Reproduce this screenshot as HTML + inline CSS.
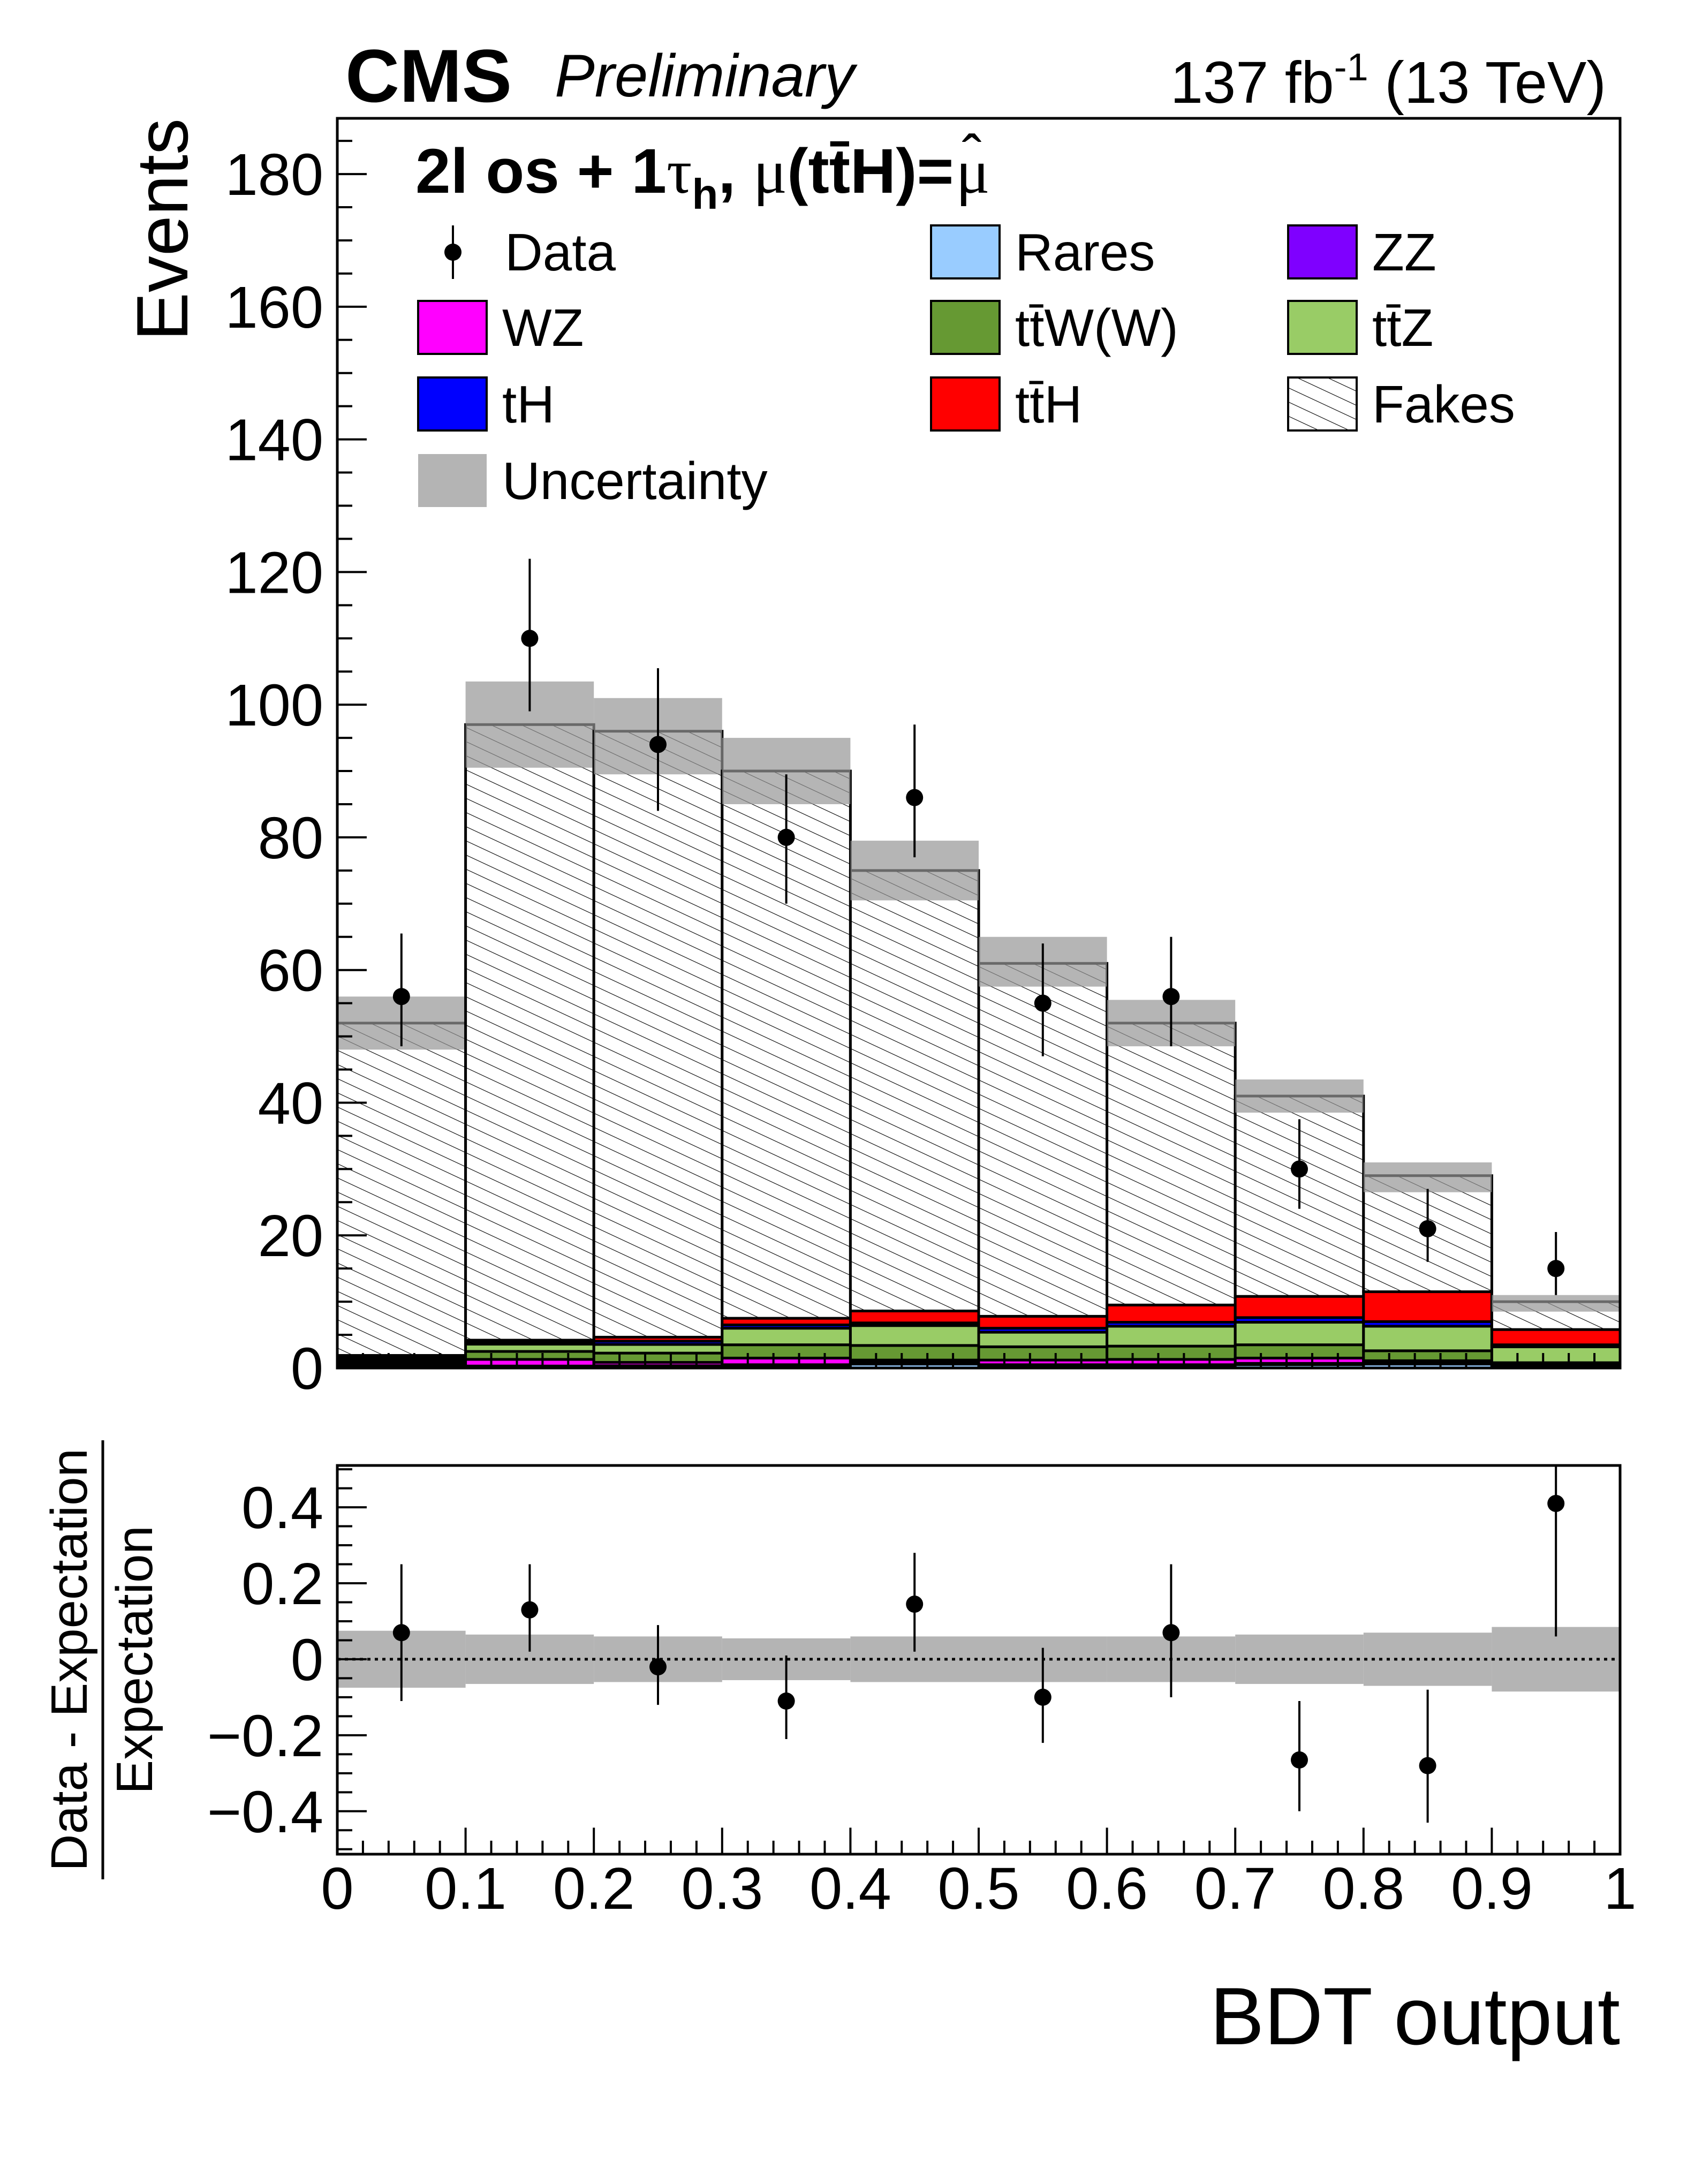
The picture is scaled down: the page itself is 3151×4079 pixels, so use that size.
<!DOCTYPE html>
<html><head><meta charset="utf-8"><style>
html,body{margin:0;padding:0;background:#fff;}
svg{display:block;font-family:"Liberation Sans",sans-serif;}
</style></head><body>
<svg id="c" xmlns="http://www.w3.org/2000/svg" width="3151" height="4079" viewBox="0 0 3151 4079">
<defs>
<pattern id="hatch" patternUnits="userSpaceOnUse" width="24" height="24" patternTransform="rotate(-65)">
<rect width="24" height="24" fill="#fff"/><line x1="0" y1="0" x2="0" y2="24" stroke="#000" stroke-width="2.2"/>
</pattern>
</defs>
<g id="main"></g>
<g id="ratio"></g>
<text x="645" y="190" font-size="140" font-weight="bold">CMS</text>
<text x="1036" y="180" font-size="112" font-style="italic">Preliminary</text>
<text x="3000" y="192" font-size="110" text-anchor="end">137 fb<tspan dy="-42" font-size="72">-1</tspan><tspan dy="42"> (13 TeV)</tspan></text>
<text id="cat" x="776" y="360" font-size="118" font-weight="bold">2l os + 1<tspan font-weight="normal" font-family="Liberation Serif">τ</tspan><tspan dy="30" font-size="80">h</tspan><tspan dy="-30">,  </tspan><tspan font-weight="normal" font-family="Liberation Serif">μ</tspan>(tt̄H)=</text>
<text id="muhat" x="1870" y="360" font-size="118" font-family="Liberation Serif">μ</text>
<text id="hat" x="1900" y="330" font-size="110" text-anchor="middle">ˆ</text>
<text transform="translate(350,221) rotate(-90)" font-size="136" text-anchor="end">Events</text>
<text x="3026" y="3818" font-size="152" text-anchor="end">BDT output</text>
<g transform="translate(192,3100) rotate(-90)">
<text x="0" y="-30" font-size="96" text-anchor="middle">Data - Expectation</text>
<line x1="-410" y1="0" x2="410" y2="0" stroke="#000" stroke-width="5"/>
<text x="0" y="92" font-size="96" text-anchor="middle">Expectation</text>
</g>
<g id="legend"></g>
</svg>
<script>
const edges=[0,0.1,0.2,0.3,0.4,0.5,0.6,0.7,0.8,0.9,1.0];
const rares=[0.1,0.1,0.15,0.3,0.6,0.3,0.3,0.5,0.6,0.2];
const zz=[0.4,0.2,0.2,0.2,0.2,0.2,0.2,0.2,0.2,0.2];
const wz=[0.4,1.0,0.5,1.0,0.4,0.7,0.8,0.8,0.3,0.1];
const ttw=[0.4,1.2,1.4,2.0,2.2,2.0,2.0,2.0,1.5,0.3];
const ttz=[0.3,1.1,1.3,2.5,3.0,2.2,3.0,3.4,3.7,2.4];
const th=[0.2,0.3,0.5,0.5,0.4,0.6,0.6,0.7,0.7,0.3];
const tth=[0.1,0.3,0.6,1.0,1.8,1.8,2.6,3.2,4.5,2.3];
const totals=[52,97,96,90,75,61,52,41,29,10];
const uncLo=[48,90.5,89.5,85,70.5,57.5,48.5,38.5,26.5,8.5];
const uncHi=[56,103.5,101,95,79.5,65,55.5,43.5,31,11];
const dataY=[56,110,94,80,86,55,56,30,21,15];
const dataHi=[65.5,122,105.5,89.5,97,64,65,37.5,27,20.5];
const dataLo=[48.5,99,84,70,77,47,48.5,24,16,11];
const ratioY=[0.07,0.13,-0.02,-0.11,0.145,-0.10,0.07,-0.265,-0.28,0.41];
const ratioHi=[0.25,0.25,0.09,0.01,0.28,0.03,0.25,-0.11,-0.08,0.6];
const ratioLo=[-0.11,0.02,-0.12,-0.21,0.02,-0.22,-0.10,-0.40,-0.43,0.06];
const ratioUnc=[0.075,0.065,0.06,0.055,0.06,0.06,0.06,0.065,0.07,0.085];
const yTicks=[0,20,40,60,80,100,120,140,160,180];
const rTicks=[-0.4,-0.2,0,0.2,0.4];
const rTickLabels=["\u22120.4","\u22120.2","0","0.2","0.4"];
const xTicks=[0,0.1,0.2,0.3,0.4,0.5,0.6,0.7,0.8,0.9,1];
const xTickLabels=["0","0.1","0.2","0.3","0.4","0.5","0.6","0.7","0.8","0.9","1"];

const NS="http://www.w3.org/2000/svg";
const X0=630,X1=3026;
const xs=v=>X0+(X1-X0)*v;
const MT=221,MB=2555,MMAX=188.4;
const ys=v=>MB-(MB-MT)*v/MMAX;
const RT=2737,RB=3463,RMIN=-0.513,RMAX=0.51;
const yr=v=>RB-(RB-RT)*(v-RMIN)/(RMAX-RMIN);
function mk(tag,attrs,parent){const e=document.createElementNS(NS,tag);for(const k in attrs)e.setAttribute(k,attrs[k]);parent.appendChild(e);return e;}
const main=document.getElementById('main'),ratio=document.getElementById('ratio');

// place mu-hat after the title
const cat=document.getElementById('cat');
const endX=776+cat.getComputedTextLength()+4;
document.getElementById('muhat').setAttribute('x',endX);
document.getElementById('hat').setAttribute('x',endX+30);

const comps=[[rares,'#99ccff','rares'],[zz,'#7f00ff','zz'],[wz,'#ff00ff','wz'],[ttw,'#669933','ttw'],[ttz,'#99cc66','ttz'],[th,'#0000ff','th'],[tth,'#ff0000','tth']];
for(let i=0;i<10;i++){
  const xa=xs(edges[i]),xb=xs(edges[i+1]);
  let cum=0;
  for(const [arr,col,nm] of comps){
    const r=mk('rect',{x:xa,y:ys(cum+arr[i]),width:xb-xa,height:ys(cum)-ys(cum+arr[i]),fill:col,stroke:'#000','stroke-width':5},main);
    
    
    cum+=arr[i];
  }
  const f=mk('rect',{x:xa,y:ys(totals[i]),width:xb-xa,height:ys(cum)-ys(totals[i]),fill:'url(#hatch)',stroke:'#000','stroke-width':5},main);
  
  
  const u=mk('rect',{x:xa,y:ys(uncHi[i]),width:xb-xa,height:ys(uncLo[i])-ys(uncHi[i]),fill:'rgb(150,150,150)','fill-opacity':0.7},main);
  
  
  const ru=mk('rect',{x:xa,y:yr(ratioUnc[i]),width:xb-xa,height:yr(-ratioUnc[i])-yr(ratioUnc[i]),fill:'#b4b4b4'},ratio);
  
  
}
const zl=mk('line',{x1:X0,x2:X1,y1:yr(0),y2:yr(0),stroke:'#000','stroke-width':5,'stroke-dasharray':'6 8'},ratio);


for(let i=0;i<10;i++){
  const cx=xs((edges[i]+edges[i+1])/2);
  const g=mk('g',{},main);
  
  
  mk('line',{x1:cx,x2:cx,y1:ys(dataHi[i]),y2:ys(dataLo[i]),stroke:'#000','stroke-width':4},g);
  mk('circle',{cx:cx,cy:ys(dataY[i]),r:16,fill:'#000'},g);
  const g2=mk('g',{},ratio);
  
  
  mk('line',{x1:cx,x2:cx,y1:Math.max(RT,yr(ratioHi[i])),y2:yr(ratioLo[i]),stroke:'#000','stroke-width':4},g2);
  mk('circle',{cx:cx,cy:yr(ratioY[i]),r:16,fill:'#000'},g2);
}
const f1=mk('rect',{x:X0,y:MT,width:X1-X0,height:MB-MT,fill:'none',stroke:'#000','stroke-width':5},main);


const f2=mk('rect',{x:X0,y:RT,width:X1-X0,height:RB-RT,fill:'none',stroke:'#000','stroke-width':5},ratio);


for(let v=0;v<=MMAX;v+=5){
  const y=ys(v),L=(v%20===0)?55:28;
  mk('line',{x1:X0,x2:X0+L,y1:y,y2:y,stroke:'#000','stroke-width':4},main);
}
yTicks.forEach(v=>{const t=mk('text',{x:604,y:ys(v)+39,'font-size':110,'text-anchor':'end'},main);t.textContent=String(v);
});
for(let k=0;k<=50;k++){
  const x=xs(k/50),L=(k%5===0)?55:28;
  mk('line',{x1:x,x2:x,y1:MB,y2:MB-L,stroke:'#000','stroke-width':4},main);
  mk('line',{x1:x,x2:x,y1:RB,y2:RB-L*0.9,stroke:'#000','stroke-width':4},ratio);
}
xTicks.forEach((v,i)=>{const t=mk('text',{x:xs(v),y:3565,'font-size':110,'text-anchor':'middle'},ratio);t.textContent=xTickLabels[i];
});
for(let k=-10;k<=10;k++){
  const v=k*0.05;if(v<RMIN||v>RMAX)continue;
  const y=yr(v),L=(k%4===0)?55:28;
  mk('line',{x1:X0,x2:X0+L,y1:y,y2:y,stroke:'#000','stroke-width':4},ratio);
}
rTicks.forEach((v,i)=>{const t=mk('text',{x:604,y:yr(v)+39,'font-size':110,'text-anchor':'end'},ratio);t.textContent=rTickLabels[i];
});
const leg=document.getElementById('legend');
const entries=[
 ['Data',null,846,471],['Rares','#99ccff',1739,471],['ZZ','#7f00ff',2406,471],
 ['WZ','#ff00ff',781,612],['tt\u0304W(W)','#669933',1739,612],['tt\u0304Z','#99cc66',2406,612],
 ['tH','#0000ff',781,755],['tt\u0304H','#ff0000',1739,755],['Fakes','hatch',2406,755],
 ['Uncertainty','unc',781,898]];
entries.forEach(([lab,col,x,y])=>{
  const g=mk('g',{},leg);
  
  
  let tx;
  if(col===null){mk('line',{x1:x,x2:x,y1:y-50,y2:y+50,stroke:'#000','stroke-width':4},g);mk('circle',{cx:x,cy:y,r:16,fill:'#000'},g);tx=943;}
  else{
    const fill=col==='hatch'?'url(#hatch)':col==='unc'?'#b4b4b4':col;
    mk('rect',{x:x,y:y-50,width:128,height:99,fill:fill,stroke:col==='unc'?'none':'#000','stroke-width':4},g);
    tx=x+157;
  }
  const t=mk('text',{x:tx,y:y+34,'font-size':98},g);t.textContent=lab;
});
</script>
</body></html>
